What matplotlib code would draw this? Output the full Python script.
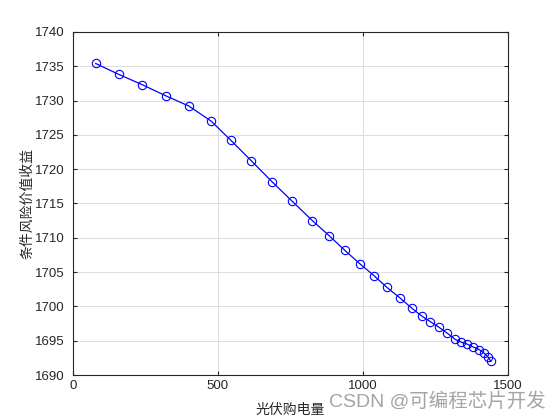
import matplotlib
matplotlib.use("Agg")
import matplotlib.pyplot as plt

x_vals = [79, 159, 240, 320, 400, 477, 545, 616, 686, 757, 826, 884, 937, 990,
          1038, 1082, 1129, 1170, 1203, 1232, 1261, 1291, 1318, 1339, 1360,
          1380, 1401, 1418, 1432, 1441]
y_vals = [1735.4, 1733.8, 1732.3, 1730.7, 1729.2, 1727.0, 1724.2, 1721.2, 1718.2,
          1715.3, 1712.5, 1710.3, 1708.2, 1706.2, 1704.5, 1702.8, 1701.2, 1699.7,
          1698.6, 1697.8, 1697.0, 1696.1, 1695.2, 1694.8, 1694.5, 1694.1, 1693.7,
          1693.2, 1692.6, 1692.0]
x_ticks = [0, 500, 1000, 1500]
y_ticks = [1690, 1695, 1700, 1705, 1710, 1715, 1720, 1725, 1730, 1735, 1740]
x_label = "光伏购电量"
y_label = "条件风险价值收益"
watermark = "CSDN @可编程芯片开发"

plt.rcParams['font.family'] = ['Liberation Sans', 'Noto Sans CJK SC', 'DejaVu Sans']

fig = plt.figure(figsize=(5.6, 4.2), dpi=100)
ax = fig.add_axes([0.13, 0.107, 0.777, 0.817])
ax.plot(x_vals, y_vals, color='#0000ff', linewidth=0.9, marker='o',
        markersize=6, markerfacecolor='none', markeredgecolor='#0000ff',
        markeredgewidth=0.8)
ax.set_xlim(0, 1500)
ax.set_ylim(1690, 1740)
ax.set_xticks(x_ticks)
ax.set_yticks(y_ticks)
ax.grid(True, color='#dcdcdc', linewidth=0.7)
ax.set_axisbelow(True)
ax.tick_params(direction='in', labelsize=9.5, colors='#262626', length=3,
               top=True, right=True)
ax.tick_params(axis='y', pad=6)
for s in ax.spines.values():
    s.set_color('#262626')
    s.set_linewidth(0.8)
ax.set_xlabel(x_label, fontsize=10, family=['Noto Sans CJK SC', 'DejaVu Sans'],
              color='#262626', labelpad=8)
ax.set_ylabel(y_label, fontsize=10, family=['Noto Sans CJK SC', 'DejaVu Sans'],
              color='#262626', labelpad=0)
fig.text(0.975, 0.022, watermark, ha='right', va='bottom', fontsize=14,
         color='#9a9a9a', alpha=0.9,
         family=['Liberation Sans', 'Noto Sans CJK SC', 'DejaVu Sans'])
fig.savefig("out.png", dpi=100)
